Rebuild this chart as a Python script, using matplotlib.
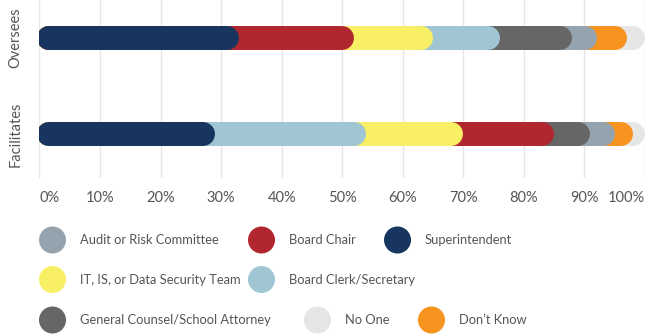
import matplotlib.pyplot as plt

plt.rcParams['font.family'] = ['Lato', 'DejaVu Sans']

# rows, top to bottom
rows = ['Oversees', 'Facilitates']

# segments per row, left to right (percent of respondents)
oversees_labels = ['Superintendent', 'Board Chair', 'IT, IS, or Data Security Team',
                   'Board Clerk/Secretary', 'General Counsel/School Attorney',
                   'Audit or Risk Committee', "Don\u2019t Know", 'No One']
oversees_values = [33, 19, 13, 11, 12, 4, 5, 3]

facilitates_labels = ['Superintendent', 'Board Clerk/Secretary', 'IT, IS, or Data Security Team',
                      'Board Chair', 'General Counsel/School Attorney',
                      'Audit or Risk Committee', "Don\u2019t Know", 'No One']
facilitates_values = [29, 25, 16, 15, 6, 4, 3, 2]

ticks = [0, 10, 20, 30, 40, 50, 60, 70, 80, 90, 100]
tick_labels = ['0%', '10%', '20%', '30%', '40%', '50%', '60%', '70%', '80%', '90%', '100%']

colors = {
    'Audit or Risk Committee': '#95a3ae',
    'Board Chair': '#b0272f',
    'Superintendent': '#17355e',
    'IT, IS, or Data Security Team': '#f8ef64',
    'Board Clerk/Secretary': '#a0c5d3',
    'General Counsel/School Attorney': '#666666',
    'No One': '#e6e6e6',
    "Don\u2019t Know": '#f7941f',
}

# legend layout: (label, circle x px, row)
legend_items = [
    ('Audit or Risk Committee', 52.5, 0), ('Board Chair', 261.5, 0), ('Superintendent', 397.5, 0),
    ('IT, IS, or Data Security Team', 52.5, 1), ('Board Clerk/Secretary', 261.5, 1),
    ('General Counsel/School Attorney', 52.5, 2), ('No One', 317.5, 2), ("Don\u2019t Know", 431.5, 2),
]
legend_rows_y = [240, 279.5, 320]

W, H = 651, 335
fig = plt.figure(figsize=(W / 100, H / 100), dpi=100)
ax = fig.add_axes([39.4 / W, 1 - 178 / H, (645 - 39.4) / W, 178 / H])

bar_px = 24
lw = bar_px * 72 / 100
r = (bar_px / 2) / ((645 - 39.4)) * 100   # round cap radius in data units

row_y = {'Oversees': 1, 'Facilitates': 0}
for name, labels, values in [('Oversees', oversees_labels, oversees_values),
                             ('Facilitates', facilitates_labels, facilitates_values)]:
    y = row_y[name]
    ends = []
    total = 0
    for v in values:
        total += v
        ends.append(total)
    # longest pill first so every segment shows its own rounded end
    for lab, end in reversed(list(zip(labels, ends))):
        ax.plot([-0.4 + r, end - r], [y, y], color=colors[lab], lw=lw,
                solid_capstyle='round', zorder=3)

ax.set_xlim(0, 100)
ax.set_ylim(-0.458, 1.396)
ax.set_xticks(ticks)
ax.set_xticklabels(tick_labels)
ax.set_yticks([1, 0])
ax.set_yticklabels(rows, rotation=90, va='center')
ax.tick_params(axis='both', length=0, labelsize=10.5, colors='#555555')
ax.tick_params(axis='x', pad=9)
ax.tick_params(axis='y', pad=12)
xl = ax.get_xticklabels()
xl[0].set_ha('left')
xl[-1].set_ha('right')
ax.grid(axis='x', color='#e6e6e6', lw=1)
ax.set_axisbelow(True)
for s in ax.spines.values():
    s.set_visible(False)

# legend drawn on a pixel-space overlay
lax = fig.add_axes([0, 0, 1, 1])
lax.set_xlim(0, W)
lax.set_ylim(H, 0)
lax.axis('off')
for lab, cx, row in legend_items:
    cy = legend_rows_y[row]
    lax.scatter([cx], [cy], s=(27 * 0.72) ** 2, color=colors[lab], edgecolors='none')
    lax.text(cx + 27.5, cy, lab, va='center', ha='left', fontsize=9.3, color='#555555')

fig.savefig('out.png', dpi=100)
